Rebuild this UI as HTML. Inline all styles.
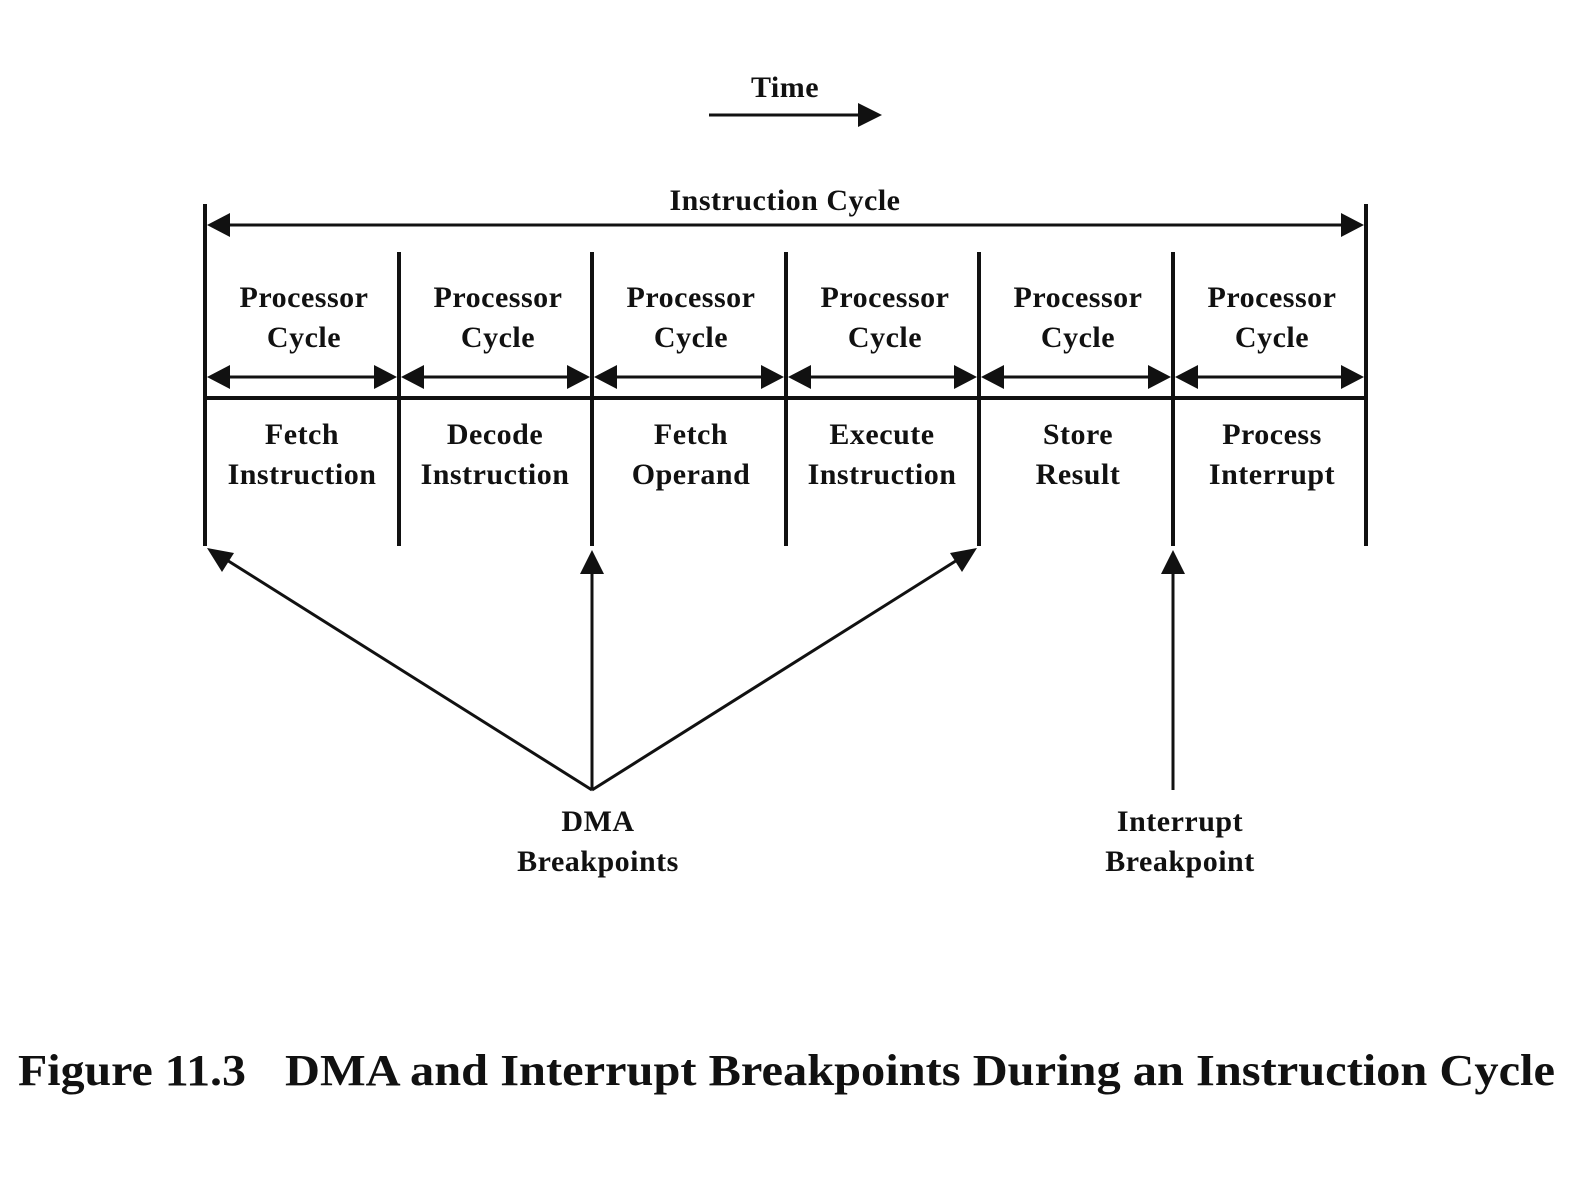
<!DOCTYPE html>
<html><head><meta charset="utf-8"><style>html,body{margin:0;padding:0;background:#fff}</style></head>
<body>
<svg width="1578" height="1176" viewBox="0 0 1578 1176" xmlns="http://www.w3.org/2000/svg" font-family="Liberation Serif, serif" font-weight="bold" fill="#111">
<rect width="1578" height="1176" fill="#fff"/>
<text x="785" y="97" font-size="30" text-anchor="middle" letter-spacing="0.5">Time</text>
<line x1="709" y1="115" x2="862" y2="115" stroke="#111" stroke-width="3"/>
<polygon points="882,115 858,103 858,127" fill="#111"/>
<text x="785" y="210" font-size="30" text-anchor="middle" letter-spacing="0.5">Instruction Cycle</text>
<line x1="225" y1="225" x2="1346" y2="225" stroke="#111" stroke-width="3"/>
<polygon points="207,225 230,213 230,237"/>
<polygon points="1364,225 1341,213 1341,237"/>
<g stroke="#111" stroke-width="4">
<line x1="205" y1="204" x2="205" y2="546"/>
<line x1="1366" y1="204" x2="1366" y2="546"/>
<line x1="399" y1="252" x2="399" y2="546"/>
<line x1="592" y1="252" x2="592" y2="546"/>
<line x1="786" y1="252" x2="786" y2="546"/>
<line x1="979" y1="252" x2="979" y2="546"/>
<line x1="1173" y1="252" x2="1173" y2="546"/>
<line x1="205" y1="398" x2="1366" y2="398"/>
</g>
<g stroke="#111" stroke-width="3">
<line x1="225" y1="377" x2="379" y2="377"/>
<line x1="419" y1="377" x2="572" y2="377"/>
<line x1="612" y1="377" x2="766" y2="377"/>
<line x1="806" y1="377" x2="959" y2="377"/>
<line x1="999" y1="377" x2="1153" y2="377"/>
<line x1="1193" y1="377" x2="1346" y2="377"/>
</g>
<g>
<polygon points="207,377 230,365 230,389"/><polygon points="397,377 374,365 374,389"/>
<polygon points="401,377 424,365 424,389"/><polygon points="590,377 567,365 567,389"/>
<polygon points="594,377 617,365 617,389"/><polygon points="784,377 761,365 761,389"/>
<polygon points="788,377 811,365 811,389"/><polygon points="977,377 954,365 954,389"/>
<polygon points="981,377 1004,365 1004,389"/><polygon points="1171,377 1148,365 1148,389"/>
<polygon points="1175,377 1198,365 1198,389"/><polygon points="1364,377 1341,365 1341,389"/>
</g>
<g font-size="30" text-anchor="middle" letter-spacing="0.5">
<text x="304" y="307">Processor</text><text x="304" y="347">Cycle</text>
<text x="498" y="307">Processor</text><text x="498" y="347">Cycle</text>
<text x="691" y="307">Processor</text><text x="691" y="347">Cycle</text>
<text x="885" y="307">Processor</text><text x="885" y="347">Cycle</text>
<text x="1078" y="307">Processor</text><text x="1078" y="347">Cycle</text>
<text x="1272" y="307">Processor</text><text x="1272" y="347">Cycle</text>
<text x="302" y="444">Fetch</text><text x="302" y="484">Instruction</text>
<text x="495" y="444">Decode</text><text x="495" y="484">Instruction</text>
<text x="691" y="444">Fetch</text><text x="691" y="484">Operand</text>
<text x="882" y="444">Execute</text><text x="882" y="484">Instruction</text>
<text x="1078" y="444">Store</text><text x="1078" y="484">Result</text>
<text x="1272" y="444">Process</text><text x="1272" y="484">Interrupt</text>
<text x="598" y="831">DMA</text><text x="598" y="871">Breakpoints</text>
<text x="1180" y="831">Interrupt</text><text x="1180" y="871">Breakpoint</text>
</g>
<g stroke="#111" stroke-width="3">
<line x1="592" y1="790" x2="222" y2="557"/>
<line x1="592" y1="790" x2="592" y2="570"/>
<line x1="592" y1="790" x2="962" y2="557"/>
<line x1="1173" y1="790" x2="1173" y2="570"/>
</g>
<polygon points="207,548 234,553 222,572"/>
<polygon points="592,550 580,574 604,574"/>
<polygon points="977,548 950,553 962,572"/>
<polygon points="1173,550 1161,574 1185,574"/>
<text x="18" y="1085" font-size="44" textLength="228" lengthAdjust="spacingAndGlyphs">Figure 11.3</text>
<text x="285" y="1085" font-size="44" textLength="1270" lengthAdjust="spacingAndGlyphs">DMA and Interrupt Breakpoints During an Instruction Cycle</text>
</svg>
</body></html>
